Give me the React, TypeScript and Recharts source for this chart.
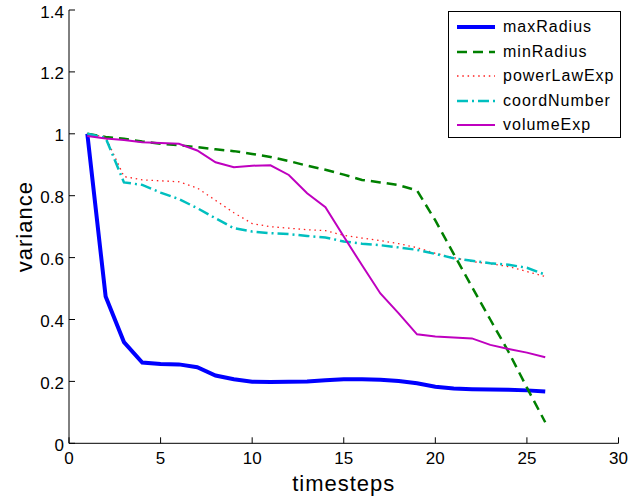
import React from 'react';
import { LineChart, Line, XAxis, YAxis, Legend } from 'recharts';

const timesteps = [1, 2, 3, 4, 5, 6, 7, 8, 9, 10, 11, 12, 13, 14, 15, 16, 17, 18, 19, 20, 21, 22, 23, 24, 25, 26];
const maxRadius = [1.0, 0.474, 0.327, 0.261, 0.256, 0.255, 0.246, 0.219, 0.207, 0.199, 0.198, 0.199, 0.2, 0.204, 0.207, 0.207, 0.205, 0.201, 0.194, 0.183, 0.177, 0.175, 0.174, 0.173, 0.171, 0.167];
const minRadius = [1.0, 0.99, 0.984, 0.975, 0.968, 0.963, 0.957, 0.95, 0.944, 0.935, 0.925, 0.912, 0.897, 0.884, 0.868, 0.851, 0.843, 0.834, 0.817, 0.72, 0.612, 0.505, 0.4, 0.295, 0.18, 0.068];
const powerLawExp = [1.0, 0.99, 0.862, 0.851, 0.848, 0.845, 0.825, 0.785, 0.745, 0.71, 0.7, 0.695, 0.69, 0.687, 0.672, 0.663, 0.655, 0.645, 0.632, 0.614, 0.6, 0.587, 0.58, 0.571, 0.555, 0.539];
const coordNumber = [1.0, 0.987, 0.843, 0.835, 0.81, 0.789, 0.76, 0.727, 0.695, 0.684, 0.679, 0.676, 0.67, 0.665, 0.652, 0.645, 0.64, 0.633, 0.625, 0.612, 0.598, 0.59, 0.582, 0.577, 0.567, 0.545];
const volumeExp = [0.993, 0.985, 0.98, 0.973, 0.97, 0.968, 0.946, 0.908, 0.892, 0.897, 0.898, 0.867, 0.808, 0.763, 0.668, 0.575, 0.484, 0.42, 0.352, 0.345, 0.342, 0.339, 0.318, 0.305, 0.293, 0.278];

const xTicks = [0, 5, 10, 15, 20, 25, 30];
const yTicks = [0, 0.2, 0.4, 0.6, 0.8, 1, 1.2, 1.4];

const data = timesteps.map((t, i) => ({
  t,
  maxRadius: maxRadius[i],
  minRadius: minRadius[i],
  powerLawExp: powerLawExp[i],
  coordNumber: coordNumber[i],
  volumeExp: volumeExp[i],
}));

const FONT = '"Liberation Sans", Arial, Helvetica, sans-serif';

const series = [
  { key: 'maxRadius', color: '#0000ff', width: 4, dash: undefined as string | undefined },
  { key: 'minRadius', color: '#008000', width: 2.5, dash: '10 6' },
  { key: 'powerLawExp', color: '#ff2020', width: 1.3, dash: '1.5 3.8' },
  { key: 'coordNumber', color: '#00bfbf', width: 2.5, dash: '11 4 2 4' },
  { key: 'volumeExp', color: '#bf00bf', width: 2, dash: undefined as string | undefined },
];

const TICK_LEN = 6;

const BottomTick = (props: any) => {
  const { x, y, payload } = props;
  return (
    <g>
      <line x1={x} x2={x} y1={y} y2={y - TICK_LEN} stroke="#000" strokeWidth={1} />
      <text x={x} y={y + 21} textAnchor="middle" fontSize={17} fontFamily={FONT} fill="#000">
        {payload.value}
      </text>
    </g>
  );
};

const TopTick = (props: any) => {
  const { x, y } = props;
  return <line x1={x} x2={x} y1={y} y2={y + TICK_LEN} stroke="#000" strokeWidth={1} />;
};

const LeftTick = (props: any) => {
  const { x, y, payload } = props;
  return (
    <g>
      <line x1={x} x2={x + TICK_LEN} y1={y} y2={y} stroke="#000" strokeWidth={1} />
      <text x={x - 5} y={y + 7.5} textAnchor="end" fontSize={17} fontFamily={FONT} fill="#000">
        {payload.value}
      </text>
    </g>
  );
};

const RightTick = (props: any) => {
  const { x, y } = props;
  return <line x1={x} x2={x - TICK_LEN} y1={y} y2={y} stroke="#000" strokeWidth={1} />;
};

const LegendBox = () => (
  <div
    style={{
      width: 173,
      height: 127,
      boxSizing: 'border-box',
      border: '1.3px solid #000',
      background: '#fff',
      paddingTop: 3,
      fontFamily: FONT,
      fontSize: 16,
      letterSpacing: 1,
      color: '#000',
    }}
  >
    {series.map((s) => (
      <div key={s.key} style={{ display: 'flex', alignItems: 'center', height: 24.5 }}>
        <svg width={46} height={10} style={{ marginLeft: 8, display: 'block' }}>
          <line
            x1={0}
            x2={38}
            y1={5}
            y2={5}
            stroke={s.color}
            strokeWidth={s.width}
            strokeDasharray={s.dash}
          />
        </svg>
        <span style={{ lineHeight: '20px' }}>{s.key}</span>
      </div>
    ))}
  </div>
);

export default function App() {
  return (
    <div style={{ position: 'absolute', left: 0, top: 0, width: 629, height: 498, background: '#fff' }}>
      <LineChart
        width={629}
        height={498}
        data={data}
        margin={{ top: 10, right: 10.5, bottom: 0, left: 0 }}
      >
        <XAxis
          xAxisId="b"
          dataKey="t"
          type="number"
          domain={[0, 30]}
          ticks={xTicks}
          interval={0}
          height={54.7}
          tickSize={0}
          tickMargin={0}
          tickLine={false}
          axisLine={{ stroke: '#000', strokeWidth: 1 }}
          tick={<BottomTick />}
          label={{
            value: 'timesteps',
            position: 'insideBottom',
            offset: 7,
            style: { fontSize: 22, fontFamily: FONT, fill: '#000', letterSpacing: 1 },
          }}
        />
        <XAxis
          xAxisId="top"
          orientation="top"
          dataKey="t"
          type="number"
          domain={[0, 30]}
          ticks={xTicks}
          interval={0}
          height={0}
          tickSize={0}
          tickMargin={0}
          tickLine={false}
          axisLine={{ stroke: '#000', strokeWidth: 1 }}
          tick={<TopTick />}
        />
        <YAxis
          yAxisId="l"
          type="number"
          domain={[0, 1.4]}
          ticks={yTicks}
          interval={0}
          width={69}
          tickSize={0}
          tickMargin={0}
          tickLine={false}
          axisLine={{ stroke: '#000', strokeWidth: 1 }}
          tick={<LeftTick />}
          label={{
            value: 'variance',
            angle: -90,
            position: 'insideLeft',
            offset: 0,
            content: (p: any) => {
              const vb = p.viewBox;
              const cy = vb.y + vb.height / 2;
              return (
                <text
                  x={32}
                  y={cy}
                  transform={`rotate(-90, 32, ${cy})`}
                  textAnchor="middle"
                  fontSize={22}
                  fontFamily={FONT}
                  letterSpacing={1}
                  fill="#000"
                >
                  variance
                </text>
              );
            },
          }}
        />
        <YAxis
          yAxisId="r"
          orientation="right"
          type="number"
          domain={[0, 1.4]}
          ticks={yTicks}
          interval={0}
          width={0}
          tickSize={0}
          tickMargin={0}
          tickLine={false}
          axisLine={{ stroke: '#000', strokeWidth: 1 }}
          tick={<RightTick />}
        />
        <Legend
          layout="horizontal"
          verticalAlign="middle"
          align="center"
          content={<LegendBox />}
          wrapperStyle={{ left: 448, top: 11, width: 173, height: 127, margin: 0 }}
        />
        {series.map((s) => (
          <Line
            key={s.key}
            xAxisId="b"
            yAxisId="l"
            type="linear"
            dataKey={s.key}
            stroke={s.color}
            strokeWidth={s.width}
            strokeDasharray={s.dash}
            dot={false}
            activeDot={false}
            isAnimationActive={false}
          />
        ))}
      </LineChart>
    </div>
  );
}
